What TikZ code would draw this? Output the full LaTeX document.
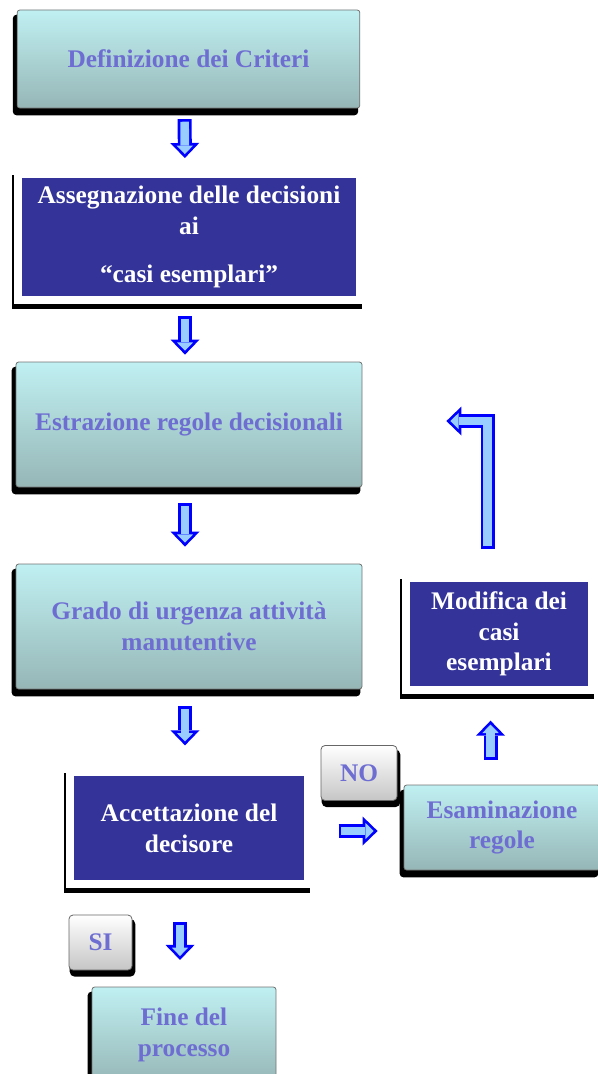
\documentclass[tikz,border=0pt]{standalone}
\usepackage{fontspec}
\setmainfont{Liberation Serif}
\usetikzlibrary{arrows.meta, shadows}
\definecolor{tealtop}{HTML}{C0F0F2}
\definecolor{tealbot}{HTML}{96B6B6}
\definecolor{labelc}{HTML}{6E6ED2}
\definecolor{navyc}{HTML}{333399}
\definecolor{arrb}{HTML}{0000FF}
\definecolor{arrf}{HTML}{99CCFF}

\begin{document}
\begin{tikzpicture}[x=0.75pt, y=-0.75pt,
      every node/.style={font=\bfseries\fontsize{19}{23}\selectfont, align=center, inner sep=0pt},
      phase/.style={shade, top color=tealtop, bottom color=tealbot, draw=black!55, line width=0.6pt, rounded corners=2pt, text=labelc,
        general shadow={fill=black, draw=black, line width=2pt, rounded corners=2pt, shadow xshift=-2.25pt, shadow yshift=-4.5pt}},
      decision/.style={fill=navyc, draw=white, line width=6pt, text=white,
        general shadow={fill=black, draw=black, line width=6pt, shadow xshift=-1.5pt, shadow yshift=-4pt}},
      answer/.style={shade, top color=white, bottom color=gray!45, draw=black!60, line width=0.6pt, rounded corners=3pt, text=labelc,
        general shadow={fill=black, draw=black, line width=2pt, rounded corners=3pt, shadow xshift=1.5pt, shadow yshift=-4pt}},
      blk/.style 2 args={draw=arrb, line width=10.5pt, line join=miter, shorten <=#1, shorten >=#2,
        -{Triangle[length=11.25pt, width=21.75pt, line width=0pt]},
        postaction={draw=arrf, line width=6.5pt, line join=miter, shorten <=#1+2pt, shorten >=#2+2.9pt,
          -{Triangle[length=6.35pt, width=12.3pt, line width=0pt]}}}]
    \useasboundingbox (0,0) rectangle (598,1074);

    % main column
    \node[phase, minimum width=257pt, minimum height=73.5pt] (crit) at (188.5,59) {Definizione dei Criteri};
    \node[decision, minimum width=256.5pt, minimum height=94.5pt] (assegn) at (189,237) {Assegnazione delle decisioni\\ ai\\[13.5pt] “casi esemplari”};
    \node[phase, minimum width=259.5pt, minimum height=93.75pt] (estraz) at (189,424.5) {Estrazione regole decisionali};
    \node[phase, minimum width=259.5pt, minimum height=93.75pt] (grado) at (189,626.5) {Grado di urgenza attività\\ manutentive};
    \node[decision, minimum width=178.5pt, minimum height=84pt] (accett) at (189,828) {Accettazione del\\ decisore};
    \node[answer, minimum width=47.25pt, minimum height=41.25pt] (silab) at (100.5,942.5) {SI};
    \node[phase, minimum width=138pt, minimum height=72pt] (fine) at (184,1035) {Fine del\\ processo};

    % feedback loop
    \node[answer, minimum width=57pt, minimum height=41.25pt] (nolab) at (359,773) {NO};
    \node[phase, minimum width=147pt, minimum height=63.75pt] (esam) at (502,827.5) {Esaminazione\\ regole};
    \node[decision, minimum width=139.5pt, minimum height=84pt] (modif) at (499,634) {Modifica dei\\ casi\\ esemplari};

    \draw[blk={8pt}{9pt}] ([xshift=-3pt]crit.south) -- ([xshift=-3pt]assegn.north);
    \draw[blk={9pt}{5.25pt}] ([xshift=-3pt]assegn.south) -- ([xshift=-3pt]estraz.north);
    \draw[blk={12pt}{12.75pt}] ([xshift=-3pt]estraz.south) -- ([xshift=-3pt]grado.north);
    \draw[blk={12.75pt}{17pt}] ([xshift=-3pt]grado.south) -- ([xshift=-3pt]accett.north);
    \draw[blk={25.5pt}{20pt}] ([xshift=-6.75pt]accett.south) -- ([xshift=-6.75pt]accett.south |- fine.north);
    \draw[blk={20pt}{19.5pt}] ([yshift=-2.25pt]accett.east) -- ([yshift=-2.25pt]accett.east -| esam.west);
    \draw[blk={18.75pt}{20pt}] ([xshift=-8.6pt]esam.north) -- ([xshift=-8.6pt]esam.north |- modif.south);
    \draw[blk={18.75pt}{63pt}] ([xshift=-8.6pt]modif.north) |- ([yshift=2.6pt]estraz.east);
\end{tikzpicture}
\end{document}
